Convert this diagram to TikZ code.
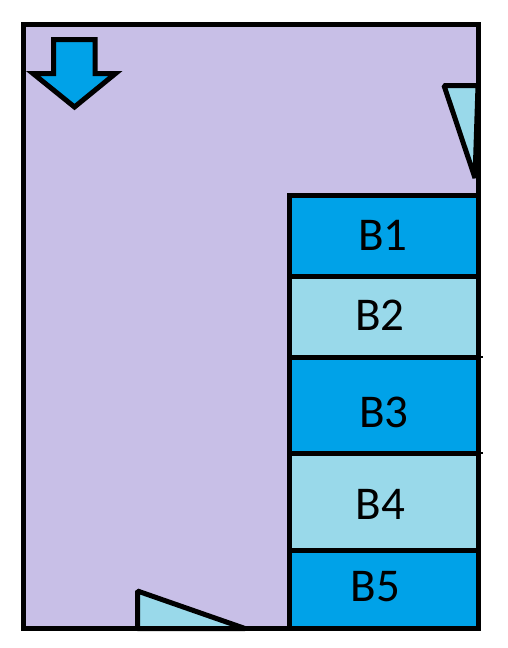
\documentclass[tikz,border=0pt]{standalone}
\usepackage{fontspec}
\setmainfont{Carlito}
\definecolor{lav}{HTML}{C8BFE7}
\definecolor{dkblue}{HTML}{00A2E8}
\definecolor{ltblue}{HTML}{99D9EA}
\begin{document}
\begin{tikzpicture}[x=1pt,y=-1pt,
  edge/.style={draw=black,line width=5pt,line join=miter},
  tri/.style={draw=black,line width=5pt,line join=bevel,fill=ltblue},
  blk/.style={rectangle,draw=black,line width=5pt,minimum width=188.5pt,inner sep=0pt,outer sep=0pt},
  lbl/.style={font=\fontsize{47}{50}\selectfont,inner sep=0pt,text=black},
  tick/.style={draw=black,line width=2.5pt}]
\useasboundingbox (0,0) rectangle (507,648);
% background
\fill[lav] (23.5,24.5) rectangle (478,628.5);
% small triangles
\filldraw[tri] (444,85.5) -- (478,85.5) -- (475,178) -- cycle;
\filldraw[tri] (137.5,591) -- (137.5,628.5) -- (245,628.5) -- cycle;
% down arrow
\filldraw[edge,fill=dkblue] (53.5,39.5) -- (95,39.5) -- (95,73.5) -- (115.5,73.5) -- (74.5,107) -- (33,73.5) -- (53.5,73.5) -- cycle;
% blocks
\node[blk,fill=dkblue,minimum height=81pt] (b1) at (383.75,236) {};
\node[blk,fill=ltblue,minimum height=80.5pt] (b2) at (383.75,316.75) {};
\node[blk,fill=dkblue,minimum height=96pt] (b3) at (383.75,405) {};
\node[blk,fill=ltblue,minimum height=97.5pt] (b4) at (383.75,501.75) {};
\node[blk,fill=dkblue,minimum height=77.5pt] (b5) at (383.75,589.25) {};
\node[lbl] (t1) at (383,235) {B1};
\node[lbl] (t2) at (380,315.7) {B2};
\node[lbl] (t3) at (384,412.6) {B3};
\node[lbl] (t4) at (380.5,504.7) {B4};
\node[lbl] (t5) at (375.5,586.7) {B5};
% outer border
\draw[edge] (23.5,24.5) rectangle (478,628.5);
% ticks
\coordinate (k1) at (482.5,357);
\coordinate (k2) at (482.5,453);
\draw[tick] (b2.south east) -- (k1);
\draw[tick] (b3.south east) -- (k2);
\end{tikzpicture}
\end{document}
